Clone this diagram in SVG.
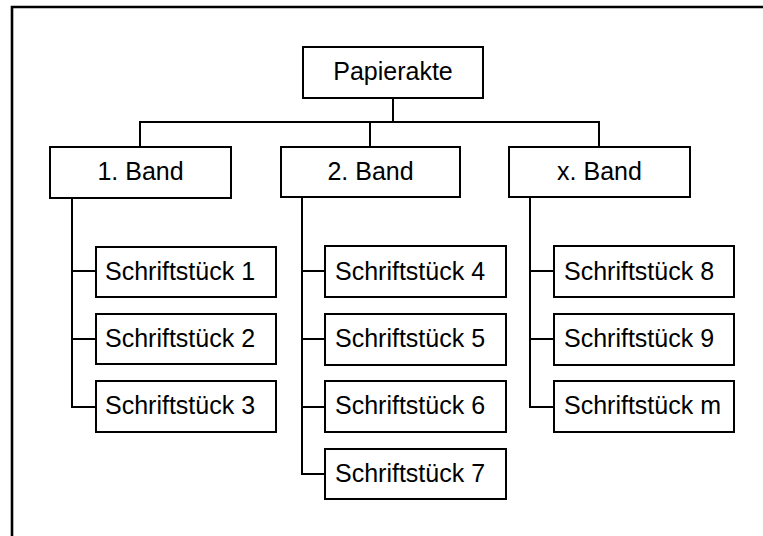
<svg xmlns="http://www.w3.org/2000/svg" width="763" height="536" viewBox="0 0 763 536">
  <style>
    .box { fill: #ffffff; stroke: #000000; stroke-width: 2; }
    .lbl { font-family: "Liberation Sans", Arial, sans-serif; font-size: 25px; fill: #000000; }
    .c { text-anchor: middle; }
    .link { fill: none; stroke: #000000; stroke-width: 2; }
    .frame { fill: none; stroke: #000000; stroke-width: 2.6; }
  </style>
  <rect width="763" height="536" fill="#ffffff"/>
  <!-- open frame: top and left edges -->
  <path class="frame" d="M12,536 V7 H763"/>

  <g id="connectors">
    <path class="link" d="M393,98 V122"/>
    <path class="link" d="M140,147 V122 H599 V147"/>
    <path class="link" d="M370,122 V147"/>
    <!-- 1. Band -->
    <path class="link" d="M72,198 V407 H96"/>
    <path class="link" d="M72,271 H96"/>
    <path class="link" d="M72,339 H96"/>
    <!-- 2. Band -->
    <path class="link" d="M302,198 V474 H325"/>
    <path class="link" d="M302,271 H325"/>
    <path class="link" d="M302,339 H325"/>
    <path class="link" d="M302,407 H325"/>
    <!-- x. Band -->
    <path class="link" d="M530,198 V407 H554"/>
    <path class="link" d="M530,271 H554"/>
    <path class="link" d="M530,339 H554"/>
  </g>

  <g id="papierakte">
    <rect class="box" x="303" y="47" width="180" height="51"/>
    <text class="lbl c" x="393" y="80">Papierakte</text>
  </g>

  <g id="band1">
    <rect class="box" x="50" y="147" width="181" height="51"/>
    <text class="lbl c" x="140.5" y="179.5">1. Band</text>
  </g>
  <g id="band2">
    <rect class="box" x="281" y="147" width="179" height="50"/>
    <text class="lbl c" x="370.5" y="179.5">2. Band</text>
  </g>
  <g id="bandx">
    <rect class="box" x="509" y="147" width="181" height="50"/>
    <text class="lbl c" x="599.5" y="179.5">x. Band</text>
  </g>

  <g id="s1"><rect class="box" x="96" y="247" width="180" height="50"/><text class="lbl" x="105" y="279.5">Schriftstück 1</text></g>
  <g id="s2"><rect class="box" x="96" y="314" width="180" height="50"/><text class="lbl" x="105" y="346.5">Schriftstück 2</text></g>
  <g id="s3"><rect class="box" x="96" y="381" width="180" height="51"/><text class="lbl" x="105" y="413.5">Schriftstück 3</text></g>

  <g id="s4"><rect class="box" x="325" y="246" width="181" height="51"/><text class="lbl" x="335" y="279.5">Schriftstück 4</text></g>
  <g id="s5"><rect class="box" x="325" y="314" width="181" height="51"/><text class="lbl" x="335" y="346.5">Schriftstück 5</text></g>
  <g id="s6"><rect class="box" x="325" y="381" width="181" height="51"/><text class="lbl" x="335" y="413.5">Schriftstück 6</text></g>
  <g id="s7"><rect class="box" x="325" y="449" width="181" height="50"/><text class="lbl" x="335" y="481.5">Schriftstück 7</text></g>

  <g id="s8"><rect class="box" x="554" y="246" width="180" height="51"/><text class="lbl" x="564" y="279.5">Schriftstück 8</text></g>
  <g id="s9"><rect class="box" x="554" y="314" width="180" height="51"/><text class="lbl" x="564" y="346.5">Schriftstück 9</text></g>
  <g id="sm"><rect class="box" x="554" y="381" width="180" height="51"/><text class="lbl" x="564" y="413.5">Schriftstück m</text></g>
</svg>
